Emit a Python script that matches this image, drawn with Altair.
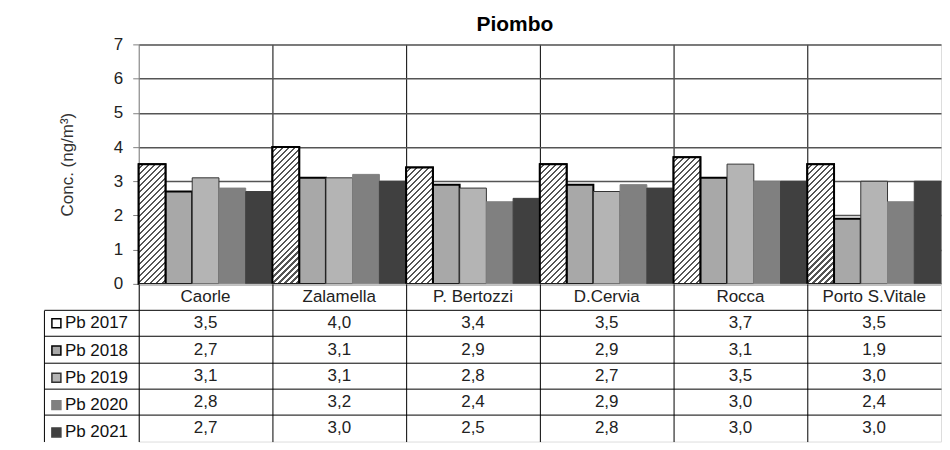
import altair as alt
import pandas as pd

# ---------------- data ----------------
categories = ["Caorle", "Zalamella", "P. Bertozzi", "D.Cervia", "Rocca", "Porto S.Vitale"]
years = ["Pb 2017", "Pb 2018", "Pb 2019", "Pb 2020", "Pb 2021"]
pb2017 = [3.5, 4.0, 3.4, 3.5, 3.7, 3.5]
pb2018 = [2.7, 3.1, 2.9, 2.9, 3.1, 1.9]
pb2019 = [3.1, 3.1, 2.8, 2.7, 3.5, 3.0]
pb2020 = [2.8, 3.2, 2.4, 2.9, 3.0, 2.4]
pb2021 = [2.7, 3.0, 2.5, 2.8, 3.0, 3.0]
y_ticks = [0, 1, 2, 3, 4, 5, 6, 7]
chart_title = "Piombo"
y_title = "Conc. (ng/m³)"

series = dict(zip(years, [pb2017, pb2018, pb2019, pb2020, pb2021]))

# ---------------- layout / style ----------------
FONT = "Liberation Sans"
PW, PH = 804, 240
ROW = 158 / 6.0
HDR = "hdr"
rows = [HDR] + years
fills = ["#ffffff", "#a8a8a8", "#b4b4b4", "#808080", "#404040"]
strokes = ["#000000", "#000000", "#333333", "#808080", "#404040"]

long_rows = []
for y in years:
    for c, v in zip(categories, series[y]):
        long_rows.append({"cat": c, "year": y, "value": v})
df = pd.DataFrame(long_rows)

table_rows = [{"cat": c, "row": HDR, "label": c} for c in categories]
for y in years:
    for c, v in zip(categories, series[y]):
        table_rows.append({"cat": c, "row": y, "value": v, "label": None})
tdf = pd.DataFrame(table_rows)

xscale = alt.Scale(type="band", domain=categories, paddingInner=0, paddingOuter=0)
xoff = alt.XOffset("year:N", scale=alt.Scale(domain=years, paddingInner=0, paddingOuter=0))
yscale = alt.Scale(domain=[0, 7])

x_bar_axis = alt.Axis(
    title=None, labels=False, ticks=False, domain=True, domainColor="#000000",
    domainWidth=2, grid=True, values=categories[1:], bandPosition=0,
    gridColor="#000000", gridWidth=1,
)
y_bar_axis = alt.Axis(
    title=y_title, values=y_ticks, labelFontSize=17, labelFont=FONT, labelColor="#222222",
    labelPadding=10, tickSize=6, tickColor="#808080", domainColor="#808080",
    gridColor="#555555", gridWidth=1.5, titleFont=FONT, titleFontSize=17,
    titleFontWeight="normal", titleColor="#333333", titlePadding=37,
)

base = alt.Chart(df).encode(
    x=alt.X("cat:N", scale=xscale, axis=x_bar_axis),
    xOffset=xoff,
    y=alt.Y("value:Q", scale=yscale, axis=y_bar_axis),
)

legend = alt.Legend(
    title=None, orient="none", legendX=-91, legendY=271, symbolType="square",
    symbolSize=81, symbolStrokeWidth=1.5, labelFont=FONT, labelFontSize=17,
    labelColor="#111111", rowPadding=ROW - 17, padding=0, labelOffset=0,
    direction="vertical",
)

bars = base.mark_bar().encode(
    fill=alt.Fill("year:N", scale=alt.Scale(domain=years, range=fills), legend=legend),
    stroke=alt.Stroke("year:N", scale=alt.Scale(domain=years, range=strokes), legend=legend),
    strokeWidth=alt.condition("datum.year == 'Pb 2017' || datum.year == 'Pb 2018'",
                              alt.value(2), alt.value(1)),
)

bw = PW / len(categories) / len(years)
unit = PH / 7.0


def hatch(w, h, period=6.0, dark=2.2):
    L = w + h
    k = L / (w * w + h * h)
    stops = []
    n = int(L // period) + 1
    for i in range(n + 1):
        s = i * period / L
        e = (i * period + period - dark) / L
        e2 = (i + 1) * period / L
        for off, col in [(s, "#ffffff"), (e, "#ffffff"), (e, "#555555"), (e2, "#555555")]:
            if off <= 1:
                stops.append(alt.GradientStop(offset=off, color=col))
    return alt.LinearGradient(gradient="linear", stops=stops, x1=0, y1=0, x2=w * k, y2=h * k)


hatch_layers = []
for c, v in zip(categories, pb2017):
    hatch_layers.append(
        base.transform_filter(
            f"datum.cat == '{c}' && datum.year == 'Pb 2017'"
        ).mark_bar(fill=hatch(bw, v * unit), stroke="#000000", strokeWidth=2)
    )

bar_chart = alt.layer(bars, *hatch_layers).properties(
    width=PW, height=PH,
    title=alt.TitleParams(chart_title, font=FONT, fontSize=21, fontWeight="bold",
                          color="#000000", anchor="middle", dx=-25, offset=0),
)

# ---------------- table ----------------
x_tab_axis = alt.Axis(
    title=None, labels=False, ticks=False, domain=False, grid=True,
    bandPosition=0, gridColor="#000000", gridWidth=1,
)
ytab_scale = alt.Scale(type="band", domain=rows, paddingInner=0, paddingOuter=0)
y_axis_a = alt.Axis(
    title=None, orient="left", labels=False, domain=False, ticks=True, tickSize=95,
    tickColor="#000000", tickWidth=1, values=years, bandPosition=0, grid=True,
    gridColor="#000000", gridWidth=1,
)
y_axis_b = alt.Axis(
    title=None, orient="left", labels=False, ticks=False, grid=False, domain=True,
    domainColor="#000000", domainWidth=1, offset=95, domainDash=[0, ROW, 1000, 0],
)

tbase = alt.Chart(tdf)
values_text = tbase.transform_filter(f"datum.row != '{HDR}'").transform_calculate(
    txt="replace(format(datum.value, '.1f'), '.', ',')"
).mark_text(font=FONT, fontSize=17, color="#222222").encode(
    x=alt.X("cat:N", scale=xscale, axis=x_tab_axis),
    y=alt.Y("row:N", scale=ytab_scale, axis=y_axis_a),
    text="txt:N",
)
header_text = tbase.transform_filter(f"datum.row == '{HDR}'").mark_text(
    font=FONT, fontSize=17, color="#222222"
).encode(
    x=alt.X("cat:N", scale=xscale, axis=x_tab_axis),
    y=alt.Y("row:N", scale=ytab_scale, axis=y_axis_b),
    text="label:N",
)
table = alt.layer(values_text, header_text).resolve_axis(y="independent").properties(
    width=PW, height=ROW * len(rows)
)

chart = alt.vconcat(bar_chart, table, spacing=0, bounds="flush").properties(
    padding={"left": 35, "top": 5, "right": 0, "bottom": 0},
).configure_view(stroke=None).configure(background="#ffffff")

chart.save("out.html", embed_options={"renderer": "svg", "actions": False})
